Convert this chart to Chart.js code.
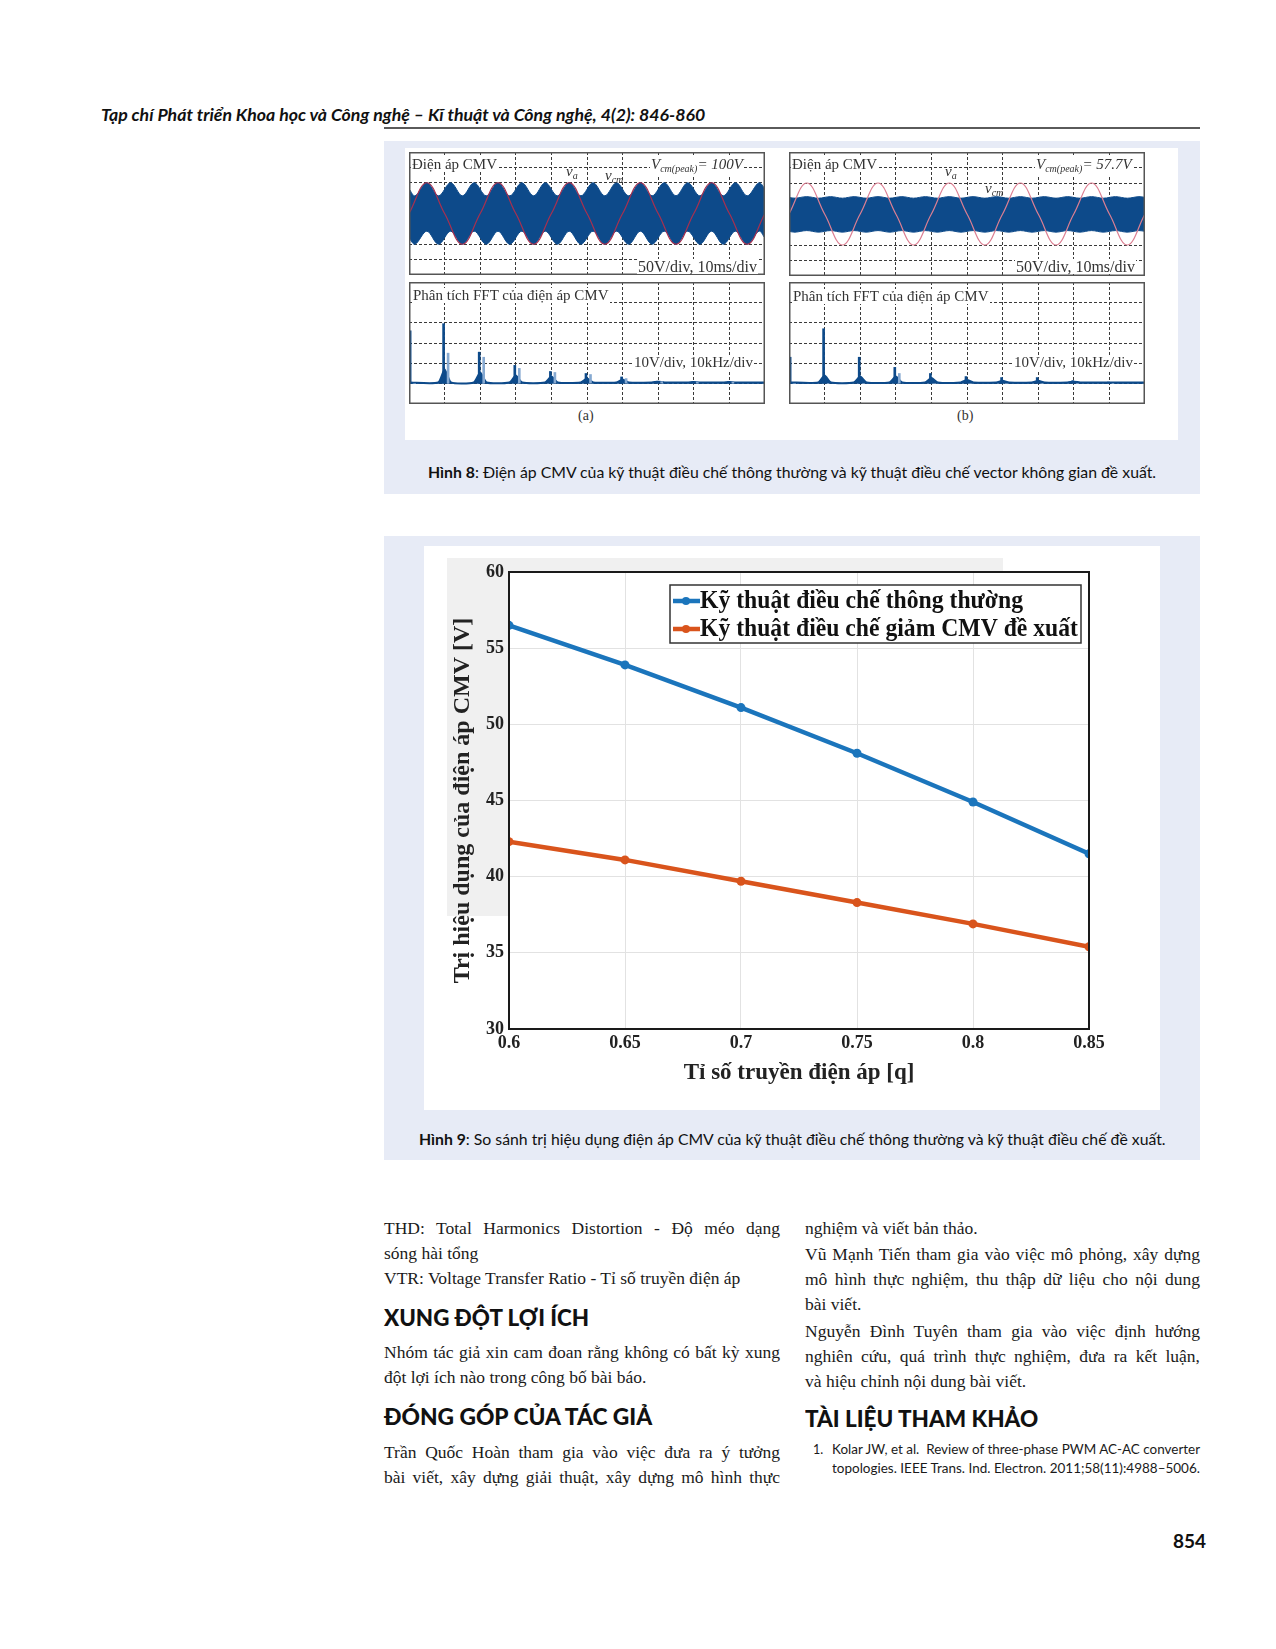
<!DOCTYPE html>
<html lang="vi">
<head>
<meta charset="utf-8">
<script src="https://cdn.jsdelivr.net/npm/chart.js@4.4.1/dist/chart.umd.min.js"></script>
<style>
body { margin:0; background:#fff; width:1276px; height:1649px; position:relative; overflow:hidden; }
.abs { position:absolute; white-space:nowrap; }
.fit { transform-origin:left center; }
#header { left:101px; top:104px; font-family:Lato, sans-serif; font-weight:bold; font-style:italic; font-size:17px; color:#111; }
#rule { left:384px; top:127px; width:816px; height:2px; background:#5a5a5a; }
.panel { background:#e7ebf6; }
.white { background:#fff; }
.cap { font-family:Lato, sans-serif; font-size:15px; color:#111; line-height:18px; }
.scope { font-family:"Liberation Serif", serif; font-size:15px; color:#333; line-height:15px; background:#fff; padding:0 1px; }
.scope.nobg { background:transparent; }
.scope sub { font-size:10px; vertical-align:-3px; }
.sub-label { font-family:"Liberation Serif", serif; font-size:14px; color:#333; }
.ln { font-family:"Liberation Serif", serif; font-size:17.5px; color:#1a1a1a; line-height:24px; text-align:justify; text-align-last:justify; white-space:normal; }
.ln.last { text-align-last:left; }
.head { font-family:Lato, sans-serif; font-weight:900; font-size:23px; color:#111; line-height:28px; }
.ref { font-family:Lato, sans-serif; font-size:12.5px; color:#1a1a1a; line-height:18px; }
</style>
</head>
<body>

<div id="header" class="abs fit">Tạp chí Phát triển Khoa học và Công nghệ – Kĩ thuật và Công nghệ, 4(2): 846-860</div>
<div id="rule" class="abs"></div>

<!-- Hinh 8 -->
<div class="abs panel" style="left:384px;top:141px;width:816px;height:353px;"></div>
<div class="abs white" style="left:405px;top:148px;width:773px;height:292px;"></div>
<canvas id="scopeA" class="abs" width="356" height="123" style="left:409px;top:152px;"></canvas>
<canvas id="fftA" class="abs" width="356" height="122" style="left:409px;top:282px;"></canvas>
<canvas id="scopeB" class="abs" width="356" height="124" style="left:789px;top:152px;"></canvas>
<canvas id="fftB" class="abs" width="356" height="122" style="left:789px;top:282px;"></canvas>

<div class="abs scope" style="left:411px;top:157px;">Điện áp CMV</div>
<div class="abs scope nobg" style="left:565px;top:164px;"><i>v<sub>a</sub></i></div>
<div class="abs scope nobg" style="left:604px;top:168px;"><i>v<sub>cm</sub></i></div>
<div class="abs scope" style="left:650px;top:157px;"><i>V<sub>cm(peak)</sub>= 100V</i></div>
<div class="abs scope" style="left:637px;top:259px;font-size:16px;">50V/div, 10ms/div</div>
<div class="abs scope" style="left:412px;top:288px;">Phân tích FFT của điện áp CMV</div>
<div class="abs scope" style="left:633px;top:355px;">10V/div, 10kHz/div</div>
<div class="abs sub-label" style="left:578px;top:408px;">(a)</div>

<div class="abs scope" style="left:791px;top:157px;">Điện áp CMV</div>
<div class="abs scope nobg" style="left:944px;top:164px;"><i>v<sub>a</sub></i></div>
<div class="abs scope nobg" style="left:984px;top:181px;"><i>v<sub>cm</sub></i></div>
<div class="abs scope" style="left:1035px;top:157px;"><i>V<sub>cm(peak)</sub>= 57.7V</i></div>
<div class="abs scope" style="left:1015px;top:259px;font-size:16px;">50V/div, 10ms/div</div>
<div class="abs scope" style="left:792px;top:289px;">Phân tích FFT của điện áp CMV</div>
<div class="abs scope" style="left:1013px;top:355px;">10V/div, 10kHz/div</div>
<div class="abs sub-label" style="left:957px;top:408px;">(b)</div>

<div id="cap8" class="abs cap fit" style="left:428px;top:463px;"><b>Hình 8</b>: Điện áp CMV của kỹ thuật điều chế thông thường và kỹ thuật điều chế vector không gian đề xuất.</div>

<!-- Hinh 9 -->
<div class="abs panel" style="left:384px;top:536px;width:816px;height:624px;"></div>
<div class="abs white" style="left:424px;top:546px;width:736px;height:564px;"></div>
<div class="abs" style="left:447px;top:558px;width:556px;height:358px;background:#f0f0f0;"></div>
<canvas id="cmvChart" class="abs" width="736" height="564" style="left:424px;top:546px;"></canvas>
<div id="cap9" class="abs cap fit" style="left:419px;top:1130px;"><b>Hình 9</b>: So sánh trị hiệu dụng điện áp CMV của kỹ thuật điều chế thông thường và kỹ thuật điều chế đề xuất.</div>

<!-- text columns -->
<div class="abs ln" style="left:384px;top:1216px;width:396px;">THD: Total Harmonics Distortion - Độ méo dạng</div>
<div class="abs ln last" style="left:384px;top:1241px;width:396px;">sóng hài tổng</div>
<div class="abs ln last" style="left:384px;top:1266px;width:396px;">VTR: Voltage Transfer Ratio - Tỉ số truyền điện áp</div>
<div id="h1" class="abs head fit" style="left:384px;top:1303px;">XUNG ĐỘT LỢI ÍCH</div>
<div class="abs ln" style="left:384px;top:1340px;width:396px;">Nhóm tác giả xin cam đoan rằng không có bất kỳ xung</div>
<div class="abs ln last" style="left:384px;top:1365px;width:396px;">đột lợi ích nào trong công bố bài báo.</div>
<div id="h2" class="abs head fit" style="left:384px;top:1402px;">ĐÓNG GÓP CỦA TÁC GIẢ</div>
<div class="abs ln" style="left:384px;top:1440px;width:396px;">Trần Quốc Hoàn tham gia vào việc đưa ra ý tưởng</div>
<div class="abs ln" style="left:384px;top:1465px;width:396px;">bài viết, xây dựng giải thuật, xây dựng mô hình thực</div>

<div class="abs ln last" style="left:805px;top:1216px;width:395px;">nghiệm và viết bản thảo.</div>
<div class="abs ln" style="left:805px;top:1242px;width:395px;">Vũ Mạnh Tiến tham gia vào việc mô phỏng, xây dựng</div>
<div class="abs ln" style="left:805px;top:1267px;width:395px;">mô hình thực nghiệm, thu thập dữ liệu cho nội dung</div>
<div class="abs ln last" style="left:805px;top:1292px;width:395px;">bài viết.</div>
<div class="abs ln" style="left:805px;top:1319px;width:395px;">Nguyễn Đình Tuyên tham gia vào việc định hướng</div>
<div class="abs ln" style="left:805px;top:1344px;width:395px;">nghiên cứu, quá trình thực nghiệm, đưa ra kết luận,</div>
<div class="abs ln last" style="left:805px;top:1369px;width:395px;">và hiệu chỉnh nội dung bài viết.</div>
<div id="h3" class="abs head fit" style="left:805px;top:1404px;">TÀI LIỆU THAM KHẢO</div>
<div class="abs ref" style="left:813px;top:1441px;">1.</div>
<div id="r1" class="abs ref fit" style="left:832px;top:1441px;">Kolar JW, et al.&nbsp; Review of three-phase PWM AC-AC converter</div>
<div id="r2" class="abs ref fit" style="left:832px;top:1460px;">topologies. IEEE Trans. Ind. Electron. 2011;58(11):4988–5006.</div>

<div class="abs" style="left:1173px;top:1529px;font-family:Lato, sans-serif;font-weight:bold;font-size:19px;color:#111;">854</div>

<script>
//  Data: Hinh 9
const qRatio          = [0.6, 0.65, 0.7, 0.75, 0.8, 0.85];
const qTickLabels     = ["0.6", "0.65", "0.7", "0.75", "0.8", "0.85"];
const cmvConventional = [56.5, 53.9, 51.1, 48.1, 44.9, 41.5];
const cmvProposed     = [42.3, 41.1, 39.7, 38.3, 36.9, 35.4];
const seriesLabels    = ["Kỹ thuật điều chế thông thường", "Kỹ thuật điều chế giảm CMV đề xuất"];

//  Data: Hinh 8 (oscilloscope divisions)
const vaTime = [0, 0.5, 1, 1.5, 2, 2.5, 3, 3.5, 4, 4.5, 5, 5.5, 6, 6.5, 7, 7.5, 8, 8.5, 9, 9.5, 10];
const vaA    = [0, 2, 0, -2, 0, 2, 0, -2, 0, 2, 0, -2, 0, 2, 0, -2, 0, 2, 0, -2, 0];
const vaB    = [0, 2, 0, -2, 0, 2, 0, -2, 0, 2, 0, -2, 0, 2, 0, -2, 0, 2, 0, -2, 0];

const bandTime = [0, 0.17, 0.5, 0.83, 1.17, 1.5, 1.83, 2.17, 2.5, 2.83, 3.17, 3.5, 3.83, 4.17, 4.5, 4.83,
                  5.17, 5.5, 5.83, 6.17, 6.5, 6.83, 7.17, 7.5, 7.83, 8.17, 8.5, 8.83, 9.17, 9.5, 9.83, 10];
const vcmUpperA = [1.6, 1.15, 2, 1.15, 2, 1.15, 2, 1.15, 2, 1.15, 2, 1.15, 2, 1.15, 2, 1.15,
                   2, 1.15, 2, 1.15, 2, 1.15, 2, 1.15, 2, 1.15, 2, 1.15, 2, 1.15, 2, 1.6];
const vcmLowerA = [-1.6, -2, -1.15, -2, -1.15, -2, -1.15, -2, -1.15, -2, -1.15, -2, -1.15, -2, -1.15, -2,
                   -1.15, -2, -1.15, -2, -1.15, -2, -1.15, -2, -1.15, -2, -1.15, -2, -1.15, -2, -1.15, -1.6];
const vcmUpperB = [1.07, 1.02, 1.12, 1.02, 1.12, 1.02, 1.12, 1.02, 1.12, 1.02, 1.12, 1.02, 1.12, 1.02, 1.12, 1.02,
                   1.12, 1.02, 1.12, 1.02, 1.12, 1.02, 1.12, 1.02, 1.12, 1.02, 1.12, 1.02, 1.12, 1.02, 1.12, 1.07];
const vcmLowerB = [-1.12, -1.17, -1.07, -1.17, -1.07, -1.17, -1.07, -1.17, -1.07, -1.17, -1.07, -1.17, -1.07, -1.17, -1.07, -1.17,
                   -1.07, -1.17, -1.07, -1.17, -1.07, -1.17, -1.07, -1.17, -1.07, -1.17, -1.07, -1.17, -1.07, -1.17, -1.07, -1.12];

const fftFreq  = [0.06, 1, 2, 3, 4, 5, 6, 7, 8, 9];
const fftPeakA = [2.6, 2.95, 1.55, 0.9, 0.6, 0.5, 0.33, 0.12, 0.1, 0.1];
const fftSideA = [0, 1.5, 1.3, 0.75, 0.55, 0.45, 0.25, 0.1, 0.08, 0.08];
const fftBaseA = [0, 0.7, 0.55, 0.4, 0.35, 0.25, 0.2, 0.1, 0.08, 0.08];
const fftPeakB = [1.3, 2.7, 1.3, 0.8, 0.5, 0.35, 0.3, 0.3, 0.15, 0.08];
const fftSideB = [0, 0, 0, 0.5, 0, 0, 0, 0, 0, 0];
const fftBaseB = [0, 0.4, 0.35, 0.35, 0.28, 0.18, 0.14, 0.14, 0.1, 0.06];
const fftFloor = 0.06;

Chart.defaults.animation = false;
Chart.defaults.responsive = false;
Chart.defaults.devicePixelRatio = 1;
Chart.defaults.events = [];
Chart.defaults.plugins.legend.display = false;
Chart.defaults.plugins.tooltip.enabled = false;

//  helpers
function pts(xs, ys){
    return xs.map((x, i) => ({x: x, y: ys[i]}));
}

//  Scale text to a given width
function fitWidth(id, w){
    const el = document.getElementById(id);
    el.style.transform = "scaleX(" + (w / el.offsetWidth) + ")";
}

//  Frame around the oscilloscope panels
const scopeFrame = {
    id: "scopeFrame",
    afterDraw(chart){
        const ctx = chart.ctx;
        ctx.save();
        ctx.strokeStyle = "#555";
        ctx.lineWidth = 1.5;
        ctx.strokeRect(0.75, 0.75, chart.width - 1.5, chart.height - 1.5);
        ctx.restore();
    }
};

function scopeScales(ymin, ymax){
    const grid = { color: "#3a3a3a", lineWidth: 1, drawTicks: false, offset: false };
    return {
        x: { type: "linear", min: 0, max: 10, offset: false, ticks: { display: false, stepSize: 1 },
             grid: grid, border: { display: false, dash: [3, 2] },
             afterFit(s){ s.height = 0; } },
        y: { min: ymin, max: ymax, ticks: { display: false, stepSize: 1 },
             grid: grid, border: { display: false, dash: [3, 2] },
             afterFit(s){ s.width = 0; } }
    };
}

//  Time-domain panel: PWM band + red phase voltage (drawn on top)
function drawScope(id, upper, lower, va, redColor){
    new Chart(document.getElementById(id), {
        type: "line",
        data: {
            datasets: [
                { data: pts(bandTime, upper), borderColor: "#0d4a8a", backgroundColor: "#0d4a8a",
                  borderWidth: 1, pointRadius: 0, tension: 0.35, fill: "+1", order: 2 },
                { data: pts(bandTime, lower), borderColor: "#0d4a8a", backgroundColor: "#0d4a8a",
                  borderWidth: 1, pointRadius: 0, tension: 0.35, fill: false, order: 3 },
                { data: pts(vaTime, va), borderColor: redColor, borderWidth: 1.2,
                  pointRadius: 0, tension: 0.4, fill: false, order: 1 }
            ]
        },
        options: { layout: { padding: 0 }, scales: scopeScales(-4, 4) },
        plugins: [scopeFrame]
    });
}

//  FFT panel
function drawFft(id, peaks, sides, bases){
    let lump = [{x: 0, y: fftFloor}];
    fftFreq.forEach((f, i) => {
        if(i === 0) return;
        lump.push({x: f - 0.18, y: fftFloor});
        lump.push({x: f, y: bases[i]});
        lump.push({x: f + 0.18, y: fftFloor});
    });
    lump.push({x: 10, y: fftFloor});

    new Chart(document.getElementById(id), {
        type: "bar",
        data: {
            datasets: [
                { type: "line", data: lump, borderColor: "#0d4a8a", backgroundColor: "#0d4a8a",
                  borderWidth: 2, pointRadius: 0, tension: 0.2, fill: "origin", order: 3 },
                { data: pts(fftFreq.map(f => f + 0.07), sides), backgroundColor: "#86a9d1",
                  barThickness: 2, order: 2 },
                { data: pts(fftFreq, peaks), backgroundColor: "#0d4a8a", barThickness: 2, order: 1 }
            ]
        },
        options: { layout: { padding: 0 }, scales: scopeScales(-1, 5) },
        plugins: [scopeFrame]
    });
}

drawScope("scopeA", vcmUpperA, vcmLowerA, vaA, "#a8304f");
drawScope("scopeB", vcmUpperB, vcmLowerB, vaB, "#dc7f92");
drawFft("fftA", fftPeakA, fftSideA, fftBaseA);
drawFft("fftB", fftPeakB, fftSideB, fftBaseB);

//  Hinh 9: white plot area, black box and inside legend
const legendTextWidth = [323, 378];
const matlabBox = {
    id: "matlabBox",
    beforeDraw(chart){
        const a = chart.chartArea, ctx = chart.ctx;
        ctx.save();
        ctx.fillStyle = "#fff";
        ctx.fillRect(a.left, a.top, a.right - a.left, a.bottom - a.top);
        ctx.restore();
    },
    afterDraw(chart){
        const a = chart.chartArea, ctx = chart.ctx;
        ctx.save();
        ctx.strokeStyle = "#1a1a1a";
        ctx.lineWidth = 2;
        ctx.strokeRect(a.left, a.top, a.right - a.left, a.bottom - a.top);

        //  legend
        const lx = 246, ly = 39, lw = 411, lh = 58;
        ctx.fillStyle = "#fff";
        ctx.fillRect(lx, ly, lw, lh);
        ctx.strokeStyle = "#333";
        ctx.lineWidth = 1.5;
        ctx.strokeRect(lx, ly, lw, lh);
        chart.data.datasets.forEach((ds, i) => {
            const y = ly + 16 + i * 28;
            ctx.strokeStyle = ds.borderColor;
            ctx.lineWidth = 4.5;
            ctx.beginPath();
            ctx.moveTo(lx + 3, y);
            ctx.lineTo(lx + 30, y);
            ctx.stroke();
            ctx.fillStyle = ds.borderColor;
            ctx.beginPath();
            ctx.arc(lx + 16, y, 4, 0, Math.PI * 2);
            ctx.fill();
            ctx.fillStyle = "#111";
            ctx.font = "bold 25px 'Liberation Serif'";
            ctx.textBaseline = "middle";
            const sx = legendTextWidth[i] / ctx.measureText(ds.label).width;
            ctx.save();
            ctx.translate(lx + 30, y + 1);
            ctx.scale(sx, 1);
            ctx.fillText(ds.label, 0, 0);
            ctx.restore();
        });
        ctx.restore();
    }
};

const tickFont = { family: "'Liberation Serif', serif", weight: "bold", size: 18 };
const titleFont = { family: "'Liberation Serif', serif", weight: "bold", size: 23 };

new Chart(document.getElementById("cmvChart"), {
    type: "line",
    data: {
        datasets: [
            { label: seriesLabels[0], data: pts(qRatio, cmvConventional), borderColor: "#1b75bc",
              backgroundColor: "#1b75bc", borderWidth: 4.5, pointRadius: 4.5, pointBorderWidth: 0, tension: 0 },
            { label: seriesLabels[1], data: pts(qRatio, cmvProposed), borderColor: "#d9541c",
              backgroundColor: "#d9541c", borderWidth: 4.5, pointRadius: 4.5, pointBorderWidth: 0, tension: 0 }
        ]
    },
    options: {
        layout: { padding: { left: 0, top: 26, right: 71, bottom: 0 } },
        scales: {
            x: {
                type: "linear", min: 0.6, max: 0.85,
                afterBuildTicks(s){ s.ticks = qRatio.map(v => ({ value: v })); },
                ticks: { font: tickFont, color: "#222", padding: 4,
                         callback: (v, i) => qTickLabels[i] },
                grid: { color: "#e2e2e2", lineWidth: 1, drawTicks: false },
                border: { display: false },
                title: { display: true, text: "Tỉ số truyền điện áp [q]", font: titleFont, color: "#222",
                         padding: { top: 23, bottom: 23 } },
                afterFit(s){ s.height = 81; }
            },
            y: {
                min: 30, max: 60,
                ticks: { stepSize: 5, font: tickFont, color: "#222", padding: 5 },
                grid: { color: "#e2e2e2", lineWidth: 1, drawTicks: false },
                border: { display: false },
                title: { display: true, text: "Trị hiệu dụng của điện áp CMV [V]", color: "#222",
                         font: { family: "'Liberation Serif', serif", weight: "bold", size: 24 },
                         padding: { top: 24, bottom: 24 } },
                afterFit(s){ s.width = 85; }
            }
        }
    },
    plugins: [matlabBox]
});

//  page text widths
fitWidth("header", 604);
fitWidth("cap8", 728);
fitWidth("cap9", 747);
fitWidth("h1", 205);
fitWidth("h2", 268);
fitWidth("h3", 233);
fitWidth("r1", 368);
fitWidth("r2", 368);
</script>
</body>
</html>
